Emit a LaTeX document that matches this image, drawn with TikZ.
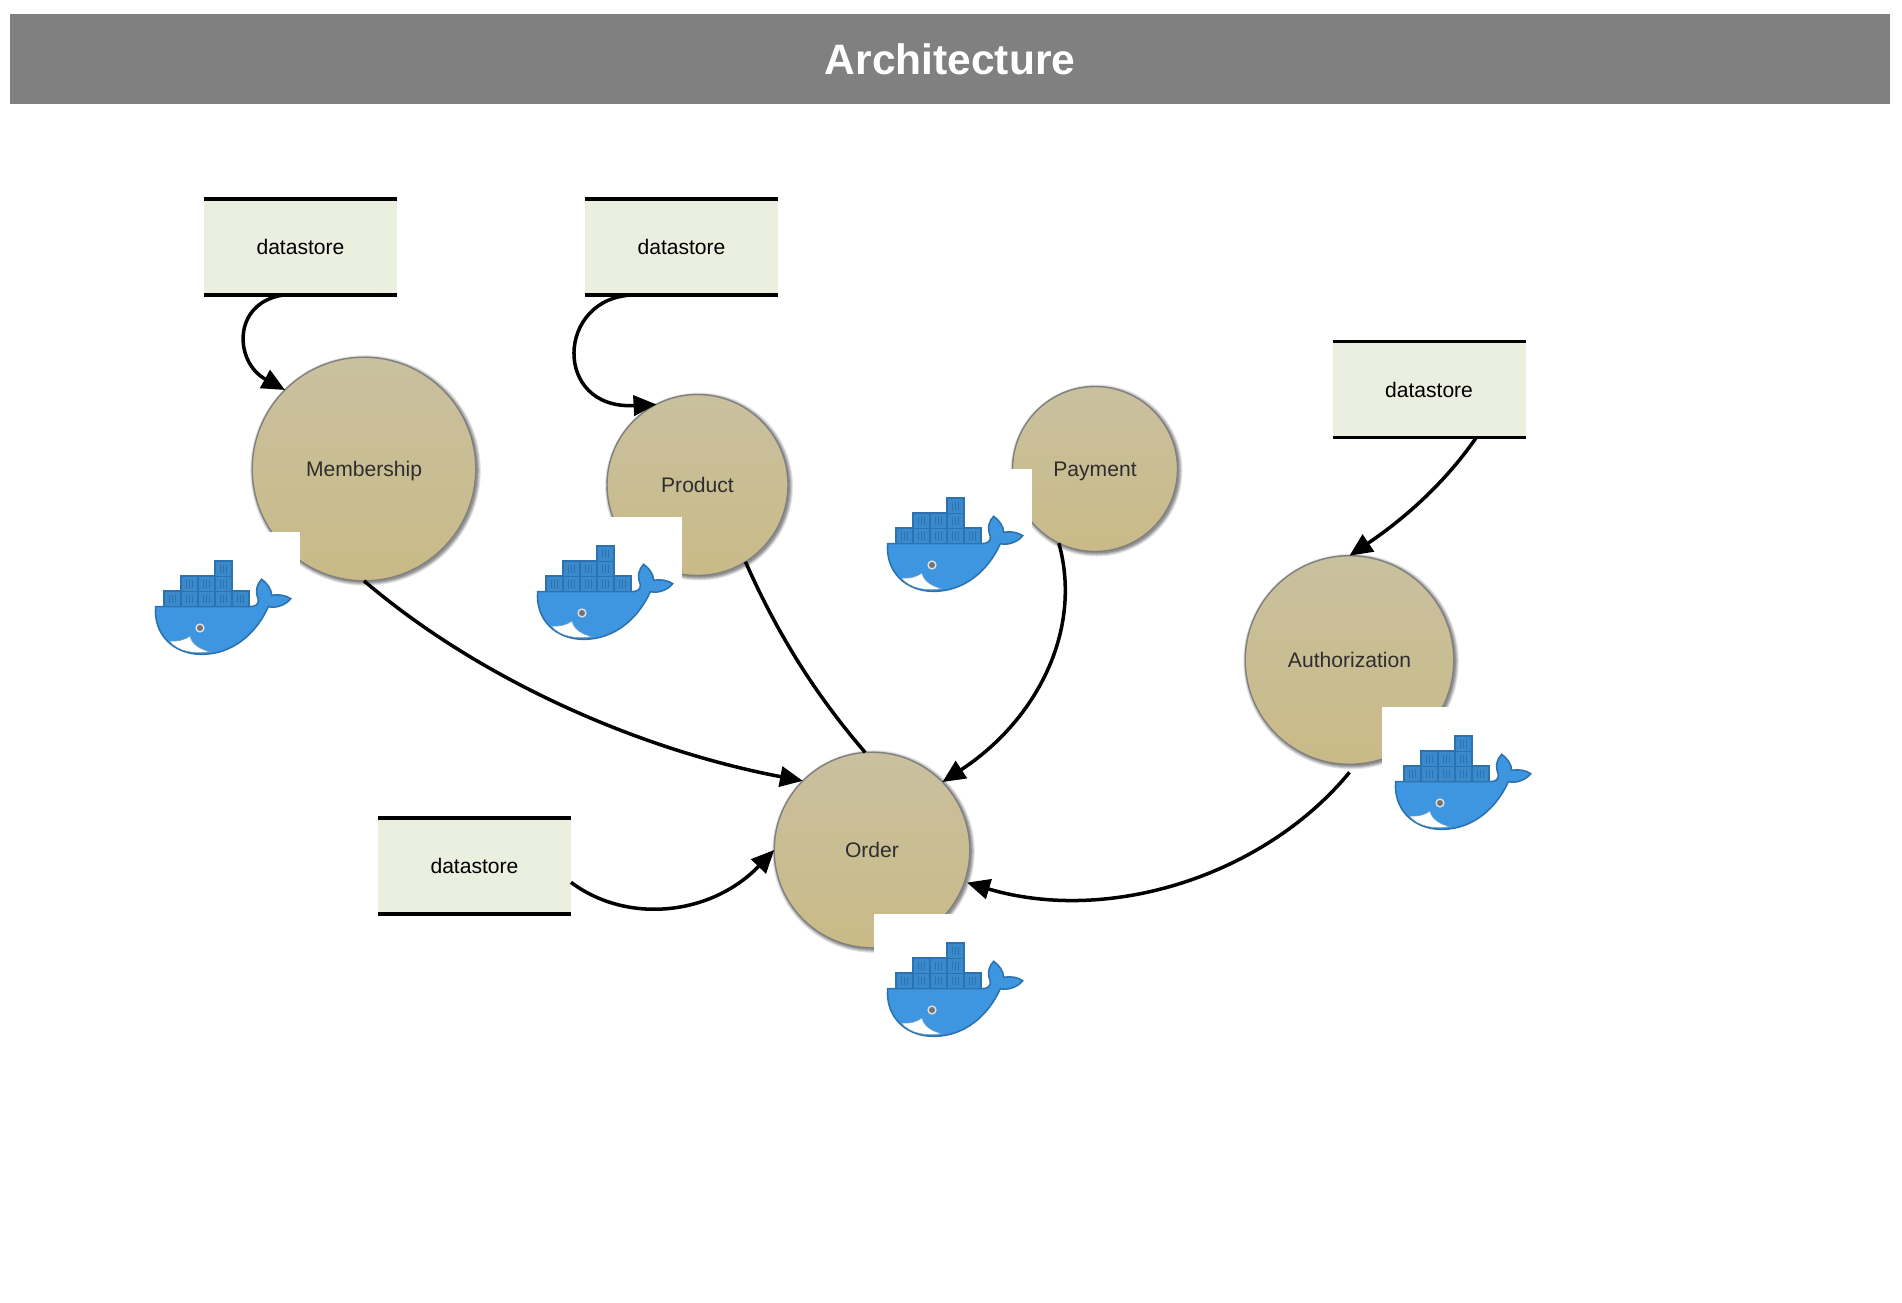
\documentclass[tikz,border=0pt]{standalone}
\usepackage{fontspec}
\setmainfont{Liberation Sans}
\usetikzlibrary{arrows.meta,calc}
\definecolor{headgray}{HTML}{808080}
\definecolor{storefill}{HTML}{EBEFDF}
\definecolor{proctop}{HTML}{C9C09F}
\definecolor{procbot}{HTML}{C9BA87}
\definecolor{whaleblue}{HTML}{3F96E0}
\definecolor{whaleedge}{HTML}{2B72AE}
\definecolor{crate}{HTML}{3A8ACB}
\tikzset{
  storebox/.style={fill=storefill,minimum width=3.86cm,minimum height=1.92cm,inner sep=0pt,outer sep=0pt,font=\fontsize{12}{14}\selectfont,text=black},
  storeline/.style={line width=2.2pt,black},
  proc/.style={circle,draw=headgray,line width=.8pt,top color=proctop,bottom color=procbot,inner sep=0pt,outer sep=0pt,font=\fontsize{12}{14}\selectfont,text=black!82,text height=1.8ex,text depth=.15ex},
  flow/.style={line width=2pt,black},
  flowtip/.style={flow,-{Triangle[length=13pt,width=11.5pt]}},
}
\newcommand\storenode[3]{%
  \node[storebox] (#1) at (#2,#3) {datastore};
  \draw[storeline] (#1.north west) -- (#1.north east);
  \draw[storeline] (#1.south west) -- (#1.south east);
}
\newcommand\procnode[5]{%
  \foreach \ss/\oo in {3.5/.10,2.5/.12,1.5/.14,.5/.16}{
    \fill[black,opacity=\oo] (#2+1.5,#3+1.5) circle ({#4+\ss});
  }
  \node[proc,minimum size={2*#4*0.02cm}] (#1) at (#2,#3) {#5};
}
\newcommand\dockerwhale[2]{%
  \begin{scope}[shift={(#1-15,#2-40.67)},scale=0.3333]
    \fill[white] (6,38) rectangle (480,512);
    \fill[whaleblue,draw=whaleedge,line width=.9pt]
      (47,262) -- (330,262) .. controls (345,262) and (358,255) .. (355,240)
      .. controls (345,215) and (350,195) .. (365,180)
      .. controls (380,190) and (395,210) .. (395,228)
      .. controls (415,224) and (438,228) .. (452,238)
      .. controls (440,255) and (410,268) .. (385,262)
      .. controls (350,340) and (280,405) .. (185,405)
      .. controls (100,405) and (40,345) .. (47,262) -- cycle;
    \fill[white,draw=whaleedge!70,line width=.3pt] (88,365) .. controls (110,368) and (135,362) .. (150,350)
      .. controls (155,375) and (180,390) .. (210,397)
      .. controls (165,405) and (115,398) .. (88,365) -- cycle;
    \foreach \cx/\cy in {72/215,123/215,174/215,225/215,276/215,123/170,174/170,225/170,225/125}{
      \filldraw[fill=crate,draw=whaleedge,line width=.7pt] (\cx,\cy) rectangle ++(51,46);
      \foreach \dd in {17,25,33}{
        \draw[whaleedge,line width=.3pt] (\cx+\dd,\cy+11) -- (\cx+\dd,\cy+35);
      }
    }
    \fill[white!88!black] (180,326) circle (14);
    \fill[black!55] (180,326) circle (9);
  \end{scope}
}
\begin{document}
\begin{tikzpicture}[x=0.02cm,y=-0.02cm]
  \useasboundingbox (0,0) rectangle (1902,1302);
  \node[fill=headgray,minimum width=37.6cm,minimum height=1.79cm,inner sep=0pt,outer sep=0pt,text=white,font=\fontsize{24.2}{28}\selectfont\bfseries] (header) at (950,59.2) {Architecture};

  \storenode{d1}{300.5}{247}
  \storenode{d2}{681.5}{247}
  \storenode{d3}{1429}{389.5}
  \storenode{d4}{474.5}{866}

  \procnode{mem}{364}{469}{111.8}{Membership}
  \procnode{prod}{697.5}{485}{90.5}{Product}
  \procnode{pay}{1095}{469}{82.5}{Payment}
  \procnode{auth}{1349.5}{660}{104.3}{Authorization}
  \procnode{ord}{872}{850}{97.8}{Order}

  \draw[flowtip] ($(d1.south west)!0.41!(d1.south east)$) .. controls (232,303) and (234,362) .. (mem.135);
  \draw[flowtip] ($(d2.south west)!0.25!(d2.south east)$) .. controls (556,297) and (552,410) .. (prod.117);
  \draw[flowtip] ($(d3.south west)!0.745!(d3.south east)$) .. controls (1440,490) and (1395,525) .. (auth.90);
  \draw[flowtip] ($(d4.north east)!0.67!(d4.south east)$) .. controls (628,925) and (712,915) .. (ord.180);
  \draw[flowtip] (mem.-90) .. controls (480,680) and (640,750) .. (ord.135);
  \draw[flow] (prod.-58.5) .. controls (780,640) and (820,700) .. (ord.94);
  \draw[flowtip] (pay.-116) .. controls (1083,630) and (1037,720) .. (ord.44);
  \draw[flowtip,shorten >=1.5pt] ([yshift=-.16cm]auth.south) .. controls (1265,875) and (1110,925) .. (ord.-19);

  \dockerwhale{155}{560}
  \dockerwhale{537}{545}
  \dockerwhale{887}{497}
  \dockerwhale{1395}{735}
  \dockerwhale{887}{942}
\end{tikzpicture}
\end{document}
